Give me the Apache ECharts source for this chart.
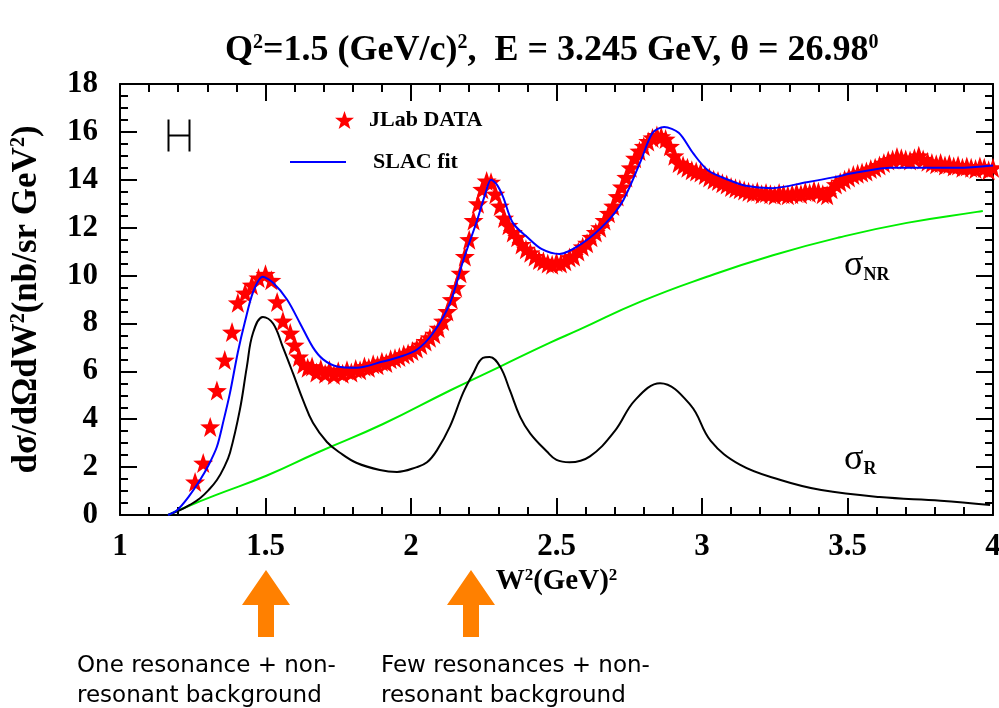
<!DOCTYPE html>
<html>
<head>
<meta charset="utf-8">
<title>Inclusive electron scattering, resonance region</title>
<script src="https://cdn.jsdelivr.net/npm/echarts@6/dist/echarts.min.js"></script>
<style>
  html, body { margin: 0; padding: 0; background: #ffffff; }
  #chart { width: 999px; height: 708px; }
</style>
</head>
<body>
<div id="chart"></div>
<script>
// Axis ticks (labelled values)
const xTickLabels = [1, 1.5, 2, 2.5, 3, 3.5, 4];
const yTickLabels = [0, 2, 4, 6, 8, 10, 12, 14, 16, 18];

// JLab cross-section data: W^2 (GeV^2) and d sigma / dOmega dW^2 (nb/sr GeV^2)
const dataW2 = [
  1.258, 1.286, 1.310, 1.333, 1.360, 1.385, 1.405, 1.430, 1.453, 1.476,
  1.500, 1.520, 1.540, 1.560, 1.585, 1.600, 1.615, 1.630, 1.645, 1.660,
  1.675, 1.690, 1.705, 1.720, 1.735, 1.750, 1.765, 1.780, 1.795, 1.810,
  1.825, 1.840, 1.855, 1.870, 1.885, 1.900, 1.915, 1.930, 1.945, 1.960,
  1.975, 1.990, 2.005, 2.020, 2.035, 2.050, 2.065, 2.080, 2.095, 2.110,
  2.125, 2.140, 2.155, 2.170, 2.185, 2.200, 2.215, 2.230, 2.245, 2.260,
  2.275, 2.290, 2.305, 2.320, 2.335, 2.350, 2.365, 2.380, 2.395, 2.410,
  2.425, 2.440, 2.455, 2.470, 2.485, 2.500, 2.515, 2.530, 2.545, 2.560,
  2.575, 2.590, 2.605, 2.620, 2.635, 2.650, 2.665, 2.680, 2.695, 2.710,
  2.725, 2.740, 2.755, 2.770, 2.785, 2.800, 2.815, 2.830, 2.845, 2.860,
  2.875, 2.890, 2.905, 2.920, 2.935, 2.950, 2.965, 2.980, 2.995, 3.010,
  3.025, 3.040, 3.055, 3.070, 3.085, 3.100, 3.115, 3.130, 3.145, 3.160,
  3.175, 3.190, 3.205, 3.220, 3.235, 3.250, 3.265, 3.280, 3.295, 3.310,
  3.325, 3.340, 3.355, 3.370, 3.385, 3.400, 3.415, 3.430, 3.445, 3.460,
  3.475, 3.490, 3.505, 3.520, 3.535, 3.550, 3.565, 3.580, 3.595, 3.610,
  3.625, 3.640, 3.655, 3.670, 3.685, 3.700, 3.715, 3.730, 3.745, 3.760,
  3.775, 3.790, 3.805, 3.820, 3.835, 3.850, 3.865, 3.880, 3.895, 3.910,
  3.925, 3.940, 3.955, 3.970, 3.985, 4.000
];
const dataXs = [
  1.38, 2.17, 3.68, 5.20, 6.47, 7.64, 8.86, 9.27, 9.60, 9.90,
  10.05, 9.80, 8.90, 8.10, 7.60, 7.10, 6.60, 6.30, 6.15, 6.20,
  5.95, 6.10, 5.90, 6.05, 5.85, 6.00, 5.90, 6.05, 5.95, 6.10,
  6.05, 6.20, 6.15, 6.30, 6.25, 6.40, 6.35, 6.50, 6.55, 6.60,
  6.70, 6.75, 6.85, 6.95, 7.10, 7.25, 7.40, 7.55, 7.80, 8.10,
  8.50, 9.00, 9.50, 10.10, 10.80, 11.50, 12.30, 13.00, 13.60, 13.95,
  13.90, 13.40, 12.90, 12.40, 12.10, 11.80, 11.60, 11.30, 11.10, 10.95,
  10.80, 10.65, 10.60, 10.50, 10.45, 10.55, 10.50, 10.60, 10.75, 10.80,
  11.00, 11.20, 11.35, 11.60, 11.80, 12.00, 12.30, 12.60, 12.90, 13.30,
  13.70, 14.10, 14.50, 14.90, 15.20, 15.40, 15.60, 15.75, 15.85, 15.80,
  15.70, 15.40, 15.00, 14.70, 14.60, 14.50, 14.40, 14.35, 14.30, 14.20,
  14.10, 14.00, 13.95, 13.85, 13.80, 13.70, 13.65, 13.60, 13.55, 13.50,
  13.45, 13.50, 13.40, 13.45, 13.40, 13.35, 13.45, 13.40, 13.35, 13.40,
  13.45, 13.40, 13.50, 13.45, 13.55, 13.50, 13.40, 13.35, 13.60, 13.80,
  13.90, 14.00, 14.10, 14.20, 14.25, 14.30, 14.35, 14.45, 14.50, 14.60,
  14.70, 14.80, 14.85, 14.95, 14.90, 14.85, 14.80, 14.90, 15.00, 14.85,
  14.75, 14.70, 14.65, 14.70, 14.60, 14.65, 14.55, 14.60, 14.50, 14.55,
  14.50, 14.45, 14.55, 14.50, 14.40, 14.50
];

// SLAC fit (total)
const fitW2 = [
  1.165, 1.196, 1.235, 1.275, 1.305, 1.333, 1.355, 1.378, 1.405, 1.430,
  1.457, 1.490, 1.526, 1.574, 1.619, 1.663, 1.698, 1.746, 1.814, 1.900,
  1.960, 2.020, 2.076, 2.134, 2.180, 2.227, 2.255, 2.275, 2.295, 2.316,
  2.350, 2.400, 2.450, 2.510, 2.590, 2.670, 2.730, 2.790, 2.830, 2.870,
  2.920, 2.970, 3.020, 3.090, 3.150, 3.240, 3.360, 3.450, 3.530, 3.650,
  3.760, 3.880, 4.000
];
const fitXs = [
  0.00, 0.20, 0.75, 1.46, 2.10, 2.85, 3.90, 5.10, 6.80, 8.10,
  9.30, 9.95, 9.70, 9.00, 8.00, 7.00, 6.50, 6.20, 6.15, 6.40,
  6.60, 6.90, 7.60, 8.85, 10.65, 12.30, 13.40, 14.00, 13.80, 13.30,
  12.20, 11.60, 11.10, 10.90, 11.36, 12.20, 13.16, 14.80, 15.96, 16.20,
  15.96, 15.10, 14.40, 14.00, 13.75, 13.65, 13.90, 14.10, 14.30, 14.50,
  14.50, 14.50, 14.60
];

// Resonant part, sigma_R
const resW2 = [
  1.165, 1.206, 1.240, 1.275, 1.305, 1.333, 1.358, 1.378, 1.412, 1.436,
  1.457, 1.491, 1.526, 1.560, 1.595, 1.629, 1.663, 1.711, 1.756, 1.814,
  1.893, 1.952, 2.020, 2.055, 2.089, 2.134, 2.179, 2.213, 2.247, 2.270,
  2.306, 2.340, 2.375, 2.410, 2.467, 2.500, 2.545, 2.615, 2.700, 2.770,
  2.856, 2.960, 3.030, 3.130, 3.270, 3.410, 3.610, 3.820, 3.990
];
const resXs = [
  0.00, 0.20, 0.42, 0.70, 1.05, 1.46, 2.00, 2.60, 4.40, 6.20,
  7.60, 8.27, 8.00, 7.00, 5.90, 4.80, 3.85, 3.05, 2.60, 2.17,
  1.88, 1.80, 2.00, 2.20, 2.70, 3.70, 5.10, 5.90, 6.56, 6.60,
  6.20, 5.20, 4.10, 3.40, 2.65, 2.30, 2.20, 2.45, 3.50, 4.80,
  5.50, 4.60, 3.10, 2.10, 1.46, 1.04, 0.75, 0.60, 0.42
];

// Non-resonant background, sigma_NR
const nonresW2 = [
  1.165, 1.250, 1.333, 1.505, 1.677, 1.904, 2.134, 2.306, 2.478, 2.580,
  2.787, 3.017, 3.244, 3.474, 3.704, 3.945, 3.965
];
const nonresXs = [
  0.00, 0.45, 0.85, 1.65, 2.60, 3.80, 5.20, 6.20, 7.20, 7.75,
  8.90, 9.95, 10.85, 11.60, 12.20, 12.66, 12.70
];

const SERIF = '"Liberation Serif", "Times New Roman", "DejaVu Serif", serif';
const SANS = '"DejaVu Sans", "Liberation Sans", sans-serif';
const STAR = 'path://M50,0 L61.76,33.82 L97.55,34.55 L69.02,56.18 L79.39,90.45 L50,70 L20.61,90.45 L30.98,56.18 L2.45,34.55 L38.24,33.82 Z';

const zip = (xs, ys) => xs.map((x, i) => [x, ys[i]]);

function frameAxis(position, extra) {
  return Object.assign({
    type: 'value',
    position: position,
    axisLine: { show: true, onZero: false, lineStyle: { color: '#000', width: 2 } },
    axisTick: { show: true, inside: true, length: 17, lineStyle: { color: '#000', width: 2 } },
    minorTick: { show: true, length: 8, lineStyle: { color: '#000', width: 2 } },
    splitLine: { show: false },
    minorSplitLine: { show: false },
    axisLabel: { show: false }
  }, extra);
}

const xRange = { min: xTickLabels[0], max: xTickLabels[xTickLabels.length - 1], interval: 0.5 };
const yRange = { min: yTickLabels[0], max: yTickLabels[yTickLabels.length - 1], interval: 2 };

const tickLabelStyle = {
  show: true,
  color: '#000',
  fontFamily: SERIF,
  fontWeight: 'bold',
  fontSize: 31
};

const chart = echarts.init(document.getElementById('chart'));

chart.setOption({
  animation: false,
  backgroundColor: '#ffffff',
  title: {
    text: 'Q{s|2}=1.5 (GeV/c){s|2},  E = 3.245 GeV, θ = 26.98{s|0}',
    left: 220,
    top: 28,
    textStyle: {
      color: '#000',
      fontFamily: SERIF,
      fontWeight: 'bold',
      fontSize: 36,
      rich: {
        s: { fontFamily: SERIF, fontWeight: 'bold', fontSize: 20, verticalAlign: 'top', color: '#000' }
      }
    }
  },
  grid: { left: 120, right: 6, top: 84, bottom: 193, containLabel: false, outerBoundsMode: 'none' },
  legend: [
    {
      data: ['JLab DATA'],
      left: 330,
      top: 104,
      orient: 'vertical',
      itemWidth: 19,
      itemHeight: 19,
      selectedMode: false,
      textStyle: { color: '#000', fontFamily: SERIF, fontWeight: 'bold', fontSize: 22, padding: [0, 0, 0, 10] }
    },
    {
      data: [{ name: 'SLAC fit', icon: 'rect' }],
      left: 285,
      top: 146,
      orient: 'vertical',
      itemWidth: 56,
      itemHeight: 2,
      selectedMode: false,
      textStyle: { color: '#000', fontFamily: SERIF, fontWeight: 'bold', fontSize: 22, padding: [0, 0, 0, 22] }
    }
  ],
  xAxis: [
    frameAxis('bottom', Object.assign({}, xRange, {
      minorTick: { show: true, splitNumber: 5, length: 8, lineStyle: { color: '#000', width: 2 } },
      axisLabel: Object.assign({}, tickLabelStyle, {
        margin: 16,
        formatter: v => (xTickLabels.indexOf(v) >= 0 ? String(v) : '')
      }),
      name: 'W{s|2}(GeV){s|2}',
      nameLocation: 'middle',
      nameGap: 44,
      nameTextStyle: {
        color: '#000', fontFamily: SERIF, fontWeight: 'bold', fontSize: 29,
        rich: { s: { fontFamily: SERIF, fontWeight: 'bold', fontSize: 17, verticalAlign: 'top', color: '#000' } }
      }
    })),
    frameAxis('top', Object.assign({}, xRange, {
      minorTick: { show: true, splitNumber: 5, length: 8, lineStyle: { color: '#000', width: 2 } }
    }))
  ],
  yAxis: [
    frameAxis('left', Object.assign({}, yRange, {
      minorTick: { show: true, splitNumber: 4, length: 8, lineStyle: { color: '#000', width: 2 } },
      axisLabel: Object.assign({}, tickLabelStyle, {
        margin: 22,
        formatter: v => (yTickLabels.indexOf(v) >= 0 ? String(v) : '')
      }),
      name: 'dσ/dΩdW{s|2}(nb/sr GeV{s|2})',
      nameLocation: 'middle',
      nameGap: 76,
      nameTextStyle: {
        color: '#000', fontFamily: SERIF, fontWeight: 'bold', fontSize: 35,
        rich: { s: { fontFamily: SERIF, fontWeight: 'bold', fontSize: 20, verticalAlign: 'top', color: '#000' } }
      }
    })),
    frameAxis('right', Object.assign({}, yRange, {
      minorTick: { show: true, splitNumber: 4, length: 8, lineStyle: { color: '#000', width: 2 } }
    }))
  ],
  series: [
    {
      name: 'sigma_NR',
      type: 'line',
      data: zip(nonresW2, nonresXs),
      symbol: 'none',
      smooth: 0.5,
      lineStyle: { color: '#00ee00', width: 2 },
      z: 2
    },
    {
      name: 'sigma_R',
      type: 'line',
      data: zip(resW2, resXs),
      symbol: 'none',
      smooth: 0.4,
      lineStyle: { color: '#000000', width: 2 },
      z: 2
    },
    {
      name: 'JLab DATA',
      type: 'scatter',
      data: zip(dataW2, dataXs),
      symbol: STAR,
      symbolSize: 20,
      itemStyle: { color: '#ff0000', opacity: 1 },
      z: 3
    },
    {
      name: 'SLAC fit',
      type: 'line',
      data: zip(fitW2, fitXs),
      symbol: 'none',
      smooth: 0.3,
      lineStyle: { color: '#0000ff', width: 2 },
      itemStyle: { color: '#0000ff' },
      z: 4
    }
  ],
  graphic: [
    // error-bar key
    {
      type: 'group',
      left: 166,
      top: 117,
      children: [
        { type: 'line', shape: { x1: 1, y1: 16, x2: 22, y2: 16 }, style: { stroke: '#000', lineWidth: 2 } },
        { type: 'line', shape: { x1: 1, y1: 0, x2: 1, y2: 32 }, style: { stroke: '#000', lineWidth: 2 } },
        { type: 'line', shape: { x1: 22, y1: 0, x2: 22, y2: 32 }, style: { stroke: '#000', lineWidth: 2 } }
      ]
    },
    // curve labels
    {
      type: 'text',
      left: 844,
      top: 248,
      style: {
        text: '{g|σ}{b|NR}',
        rich: {
          g: { fontFamily: SERIF, fontSize: 36, fill: '#000' },
          b: { fontFamily: SERIF, fontWeight: 'bold', fontSize: 18, fill: '#000', verticalAlign: 'bottom' }
        }
      }
    },
    {
      type: 'text',
      left: 844,
      top: 442,
      style: {
        text: '{g|σ}{b|R}',
        rich: {
          g: { fontFamily: SERIF, fontSize: 36, fill: '#000' },
          b: { fontFamily: SERIF, fontWeight: 'bold', fontSize: 18, fill: '#000', verticalAlign: 'bottom' }
        }
      }
    },
    // orange arrows
    {
      type: 'polygon',
      shape: { points: [[266, 570], [290, 605], [274, 605], [274, 637], [258, 637], [258, 605], [242, 605]] },
      style: { fill: '#ff8000' }
    },
    {
      type: 'polygon',
      shape: { points: [[471, 570], [495, 605], [479, 605], [479, 637], [463, 637], [463, 605], [447, 605]] },
      style: { fill: '#ff8000' }
    },
    // annotations
    {
      type: 'text',
      left: 77,
      top: 651,
      style: {
        text: 'One resonance + non-\nresonant background',
        font: '23px ' + SANS,
        fill: '#000',
        lineHeight: 30
      }
    },
    {
      type: 'text',
      left: 381,
      top: 651,
      style: {
        text: 'Few resonances + non-\nresonant background',
        font: '23px ' + SANS,
        fill: '#000',
        lineHeight: 30
      }
    }
  ]
});
</script>
</body>
</html>
